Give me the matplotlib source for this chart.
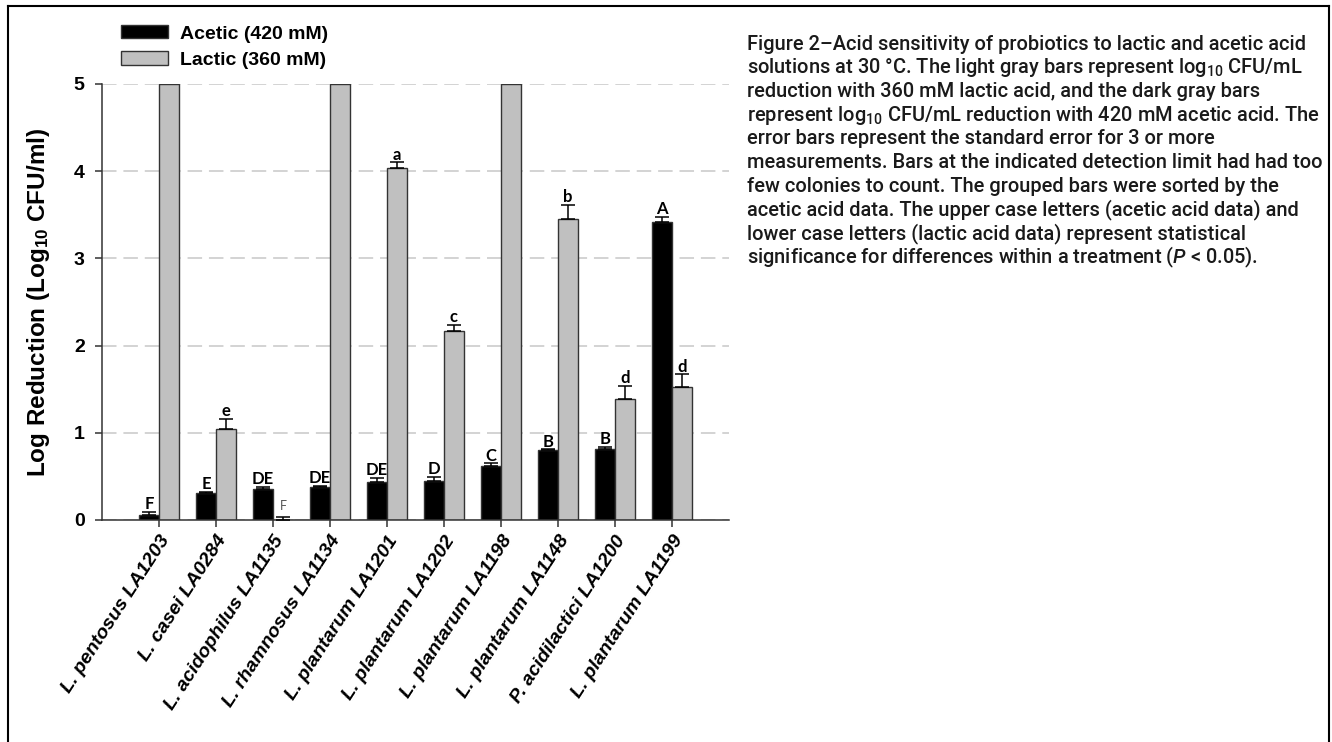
import matplotlib
matplotlib.use("Agg")
import matplotlib.pyplot as plt
from matplotlib.lines import Line2D
import numpy as np

plt.rcParams['mathtext.fontset'] = 'custom'
plt.rcParams['mathtext.rm'] = 'Roboto:medium'
plt.rcParams['mathtext.it'] = 'Roboto:italic:medium'
plt.rcParams['mathtext.bf'] = 'Liberation Sans:bold'

# strains, sorted by acetic acid log reduction
strains = ['L. pentosus LA1203', 'L. casei LA0284', 'L. acidophilus LA1135',
           'L. rhamnosus LA1134', 'L. plantarum LA1201', 'L. plantarum LA1202',
           'L. plantarum LA1198', 'L. plantarum LA1148', 'P. acidilactici LA1200',
           'L. plantarum LA1199']
acetic = [0.06, 0.31, 0.35, 0.38, 0.44, 0.45, 0.62, 0.80, 0.81, 3.42]
acetic_se = [0.03, 0.01, 0.03, 0.01, 0.04, 0.045, 0.03, 0.01, 0.03, 0.06]
lactic = [5.0, 1.04, 0.0, 5.0, 4.04, 2.17, 5.0, 3.45, 1.39, 1.53]
lactic_se = [0, 0.12, 0.03, 0, 0.06, 0.07, 0, 0.16, 0.15, 0.14]
acetic_letters = ['F', 'E', 'DE', 'DE', 'DE', 'D', 'C', 'B', 'B', 'A']
lactic_letters = ['', 'e', 'F', '', 'a', 'c', '', 'b', 'd', 'd']

caption = [
    'Figure 2\u2013Acid sensitivity of probiotics to lactic and acetic acid',
    'solutions at 30 \u00b0C. The light gray bars represent log$_{10}$ CFU/mL',
    'reduction with 360 mM lactic acid, and the dark gray bars',
    'represent log$_{10}$ CFU/mL reduction with 420 mM acetic acid. The',
    'error bars represent the standard error for 3 or more',
    'measurements. Bars at the indicated detection limit had had too',
    'few colonies to count. The grouped bars were sorted by the',
    'acetic acid data. The upper case letters (acetic acid data) and',
    'lower case letters (lactic acid data) represent statistical',
    'significance for differences within a treatment ($\\mathit{P}$ < 0.05).',
]

W, H = 1332, 742
fig = plt.figure(figsize=(W / 100, H / 100), dpi=100)
ax = fig.add_axes([102 / W, 1 - 520 / H, (729 - 102) / W, (520 - 84) / H])

x = np.arange(len(strains))
bw = 0.35
edge = '#333333'
ax.bar(x - bw / 2, acetic, bw, color='black', edgecolor=edge, linewidth=1.0,
       label='Acetic (420 mM)', zorder=2)
ax.bar(x + bw / 2, lactic, bw, color='#c0c0c0', edgecolor=edge, linewidth=1.0,
       label='Lactic (360 mM)', zorder=2)

# upward-only standard error bars, skipped where no error was measured
for offs, vals, se in [(-bw / 2, acetic, acetic_se), (bw / 2, lactic, lactic_se)]:
    idx = [i for i in range(len(vals)) if se[i] > 0]
    ax.errorbar(x[idx] + offs, np.array(vals)[idx],
                yerr=[np.zeros(len(idx)), np.array(se)[idx]],
                fmt='none', ecolor='black', elinewidth=1.1, capsize=5,
                capthick=1.1, zorder=3)

# significance letters above each bar
for i in range(len(strains)):
    ax.annotate(acetic_letters[i], (x[i] - bw / 2, acetic[i] + acetic_se[i]),
                xytext=(0, 2), textcoords='offset points', ha='center',
                va='baseline', fontsize=12, fontweight='bold', family='Lato',
                zorder=1)
    if lactic_letters[i]:
        bold = lactic[i] > 0.1
        ax.annotate(lactic_letters[i], (x[i] + bw / 2, lactic[i] + lactic_se[i]),
                    xytext=(0, 2 if bold else 5), textcoords='offset points',
                    ha='center', va='baseline', fontsize=12 if bold else 9,
                    fontweight='bold' if bold else 'normal', family='Lato',
                    color='black' if bold else '#555555', zorder=1)

ax.set_xlim(-1, 10)
ax.set_ylim(0, 5)
ax.set_yticks([0, 1, 2, 3, 4, 5])
ax.set_yticklabels(['0', '1', '2', '3', '4', '5'], fontsize=14,
                   fontweight='bold', family='Liberation Sans')
ax.set_xticks(x)
ax.set_xticklabels(strains, rotation=57, ha='right', rotation_mode='anchor',
                   fontsize=14, fontweight='bold', fontstyle='italic',
                   family='Liberation Sans')
ax.tick_params(axis='y', length=5, width=1.1, color=edge, pad=7.5)
ax.tick_params(axis='x', length=5, width=1.1, color=edge, pad=4)

ax.yaxis.grid(True, color='#c8c8c8', linewidth=1.1, linestyle=(0, (9.5, 4.5)),
              zorder=0.5)
ax.set_axisbelow(True)
for s in ['top', 'right']:
    ax.spines[s].set_visible(False)
for s in ['left', 'bottom']:
    ax.spines[s].set_color(edge)
    ax.spines[s].set_linewidth(1.1)

ax.set_ylabel('Log Reduction (Log$_{\\mathbf{10}}$ CFU/ml)', fontsize=17.5,
              fontweight='bold', family='Liberation Sans')
ax.yaxis.set_label_coords(-0.079, 0.5)

ax.legend(loc='upper left', bbox_to_anchor=(121 / W, 1 - 25 / H),
          bbox_transform=fig.transFigure, frameon=False, borderpad=0,
          borderaxespad=0, handlelength=2.4, handleheight=0.69,
          handletextpad=0.63, labelspacing=0.45,
          prop={'family': 'Liberation Sans', 'weight': 'bold', 'size': 14})

# caption block on the right
for k, line in enumerate(caption):
    fig.text(747 / W, 1 - (44 + 23.7 * k) / H, line, ha='left', va='center',
             fontsize=14.4, family='Roboto', fontweight='medium', color='#1a1a1a')

# page frame
frame = dict(color='black', linewidth=1.5, transform=fig.transFigure)
fig.add_artist(Line2D([8 / W, 8 / W], [-0.01, 1 - 6 / H], **frame))
fig.add_artist(Line2D([8 / W, 1329 / W], [1 - 6 / H, 1 - 6 / H], **frame))
fig.add_artist(Line2D([1329 / W, 1329 / W], [-0.01, 1 - 6 / H], **frame))

fig.savefig('out.png', dpi=100)
